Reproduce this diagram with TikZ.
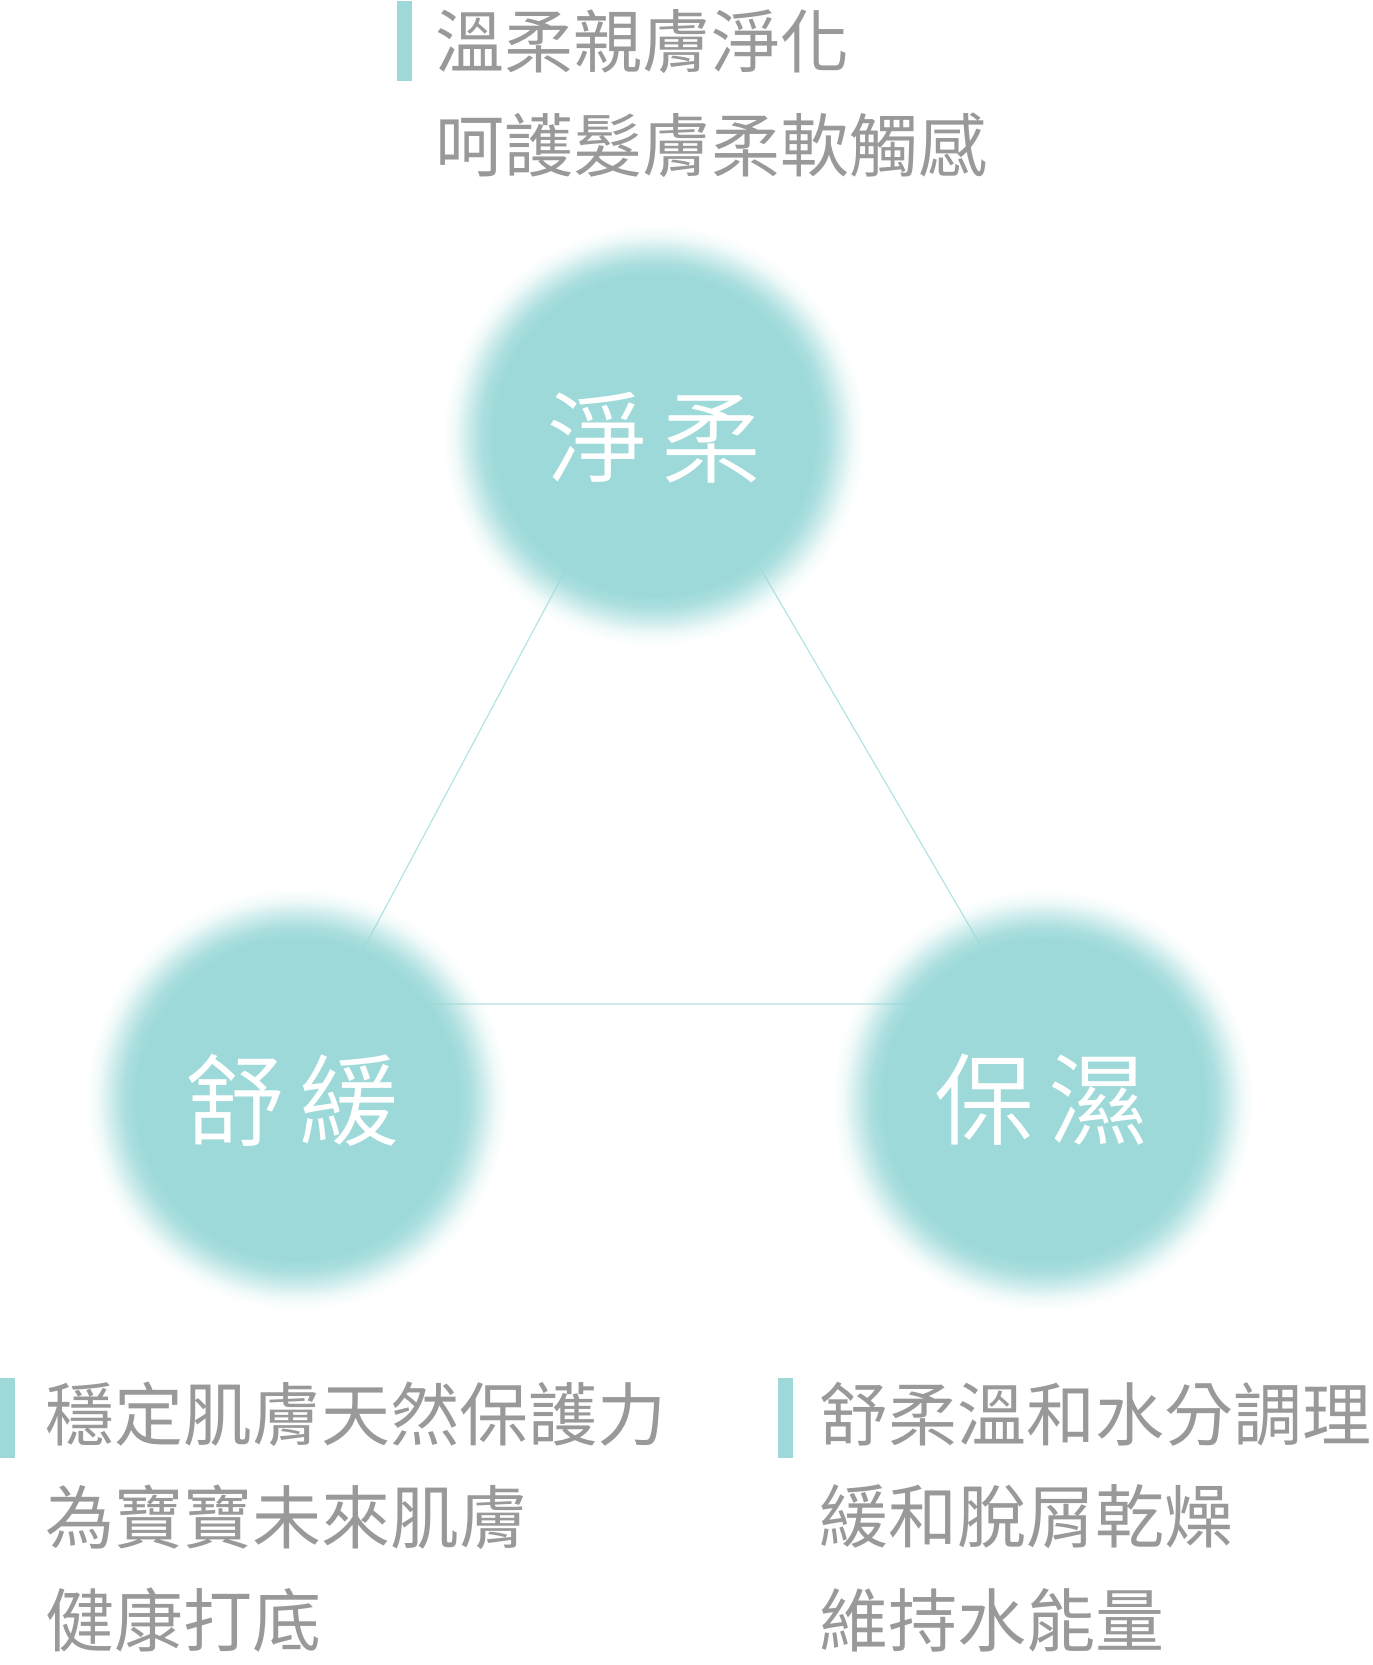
\documentclass[tikz,border=0pt]{standalone}
\usepackage{fontspec}
\setmainfont{Noto Sans CJK TC}
\IfFontExistsTF{Noto Sans CJK TC DemiLight}
	{\newfontfamily\bubblefont{Noto Sans CJK TC DemiLight}}
	{\newfontfamily\bubblefont{Noto Sans CJK TC}}
\usetikzlibrary{positioning,fadings,backgrounds}
\definecolor{mint}{HTML}{9DD9D9}
\definecolor{txtgrey}{HTML}{999999}
\pgfdeclareradialshading{softedgeshade}{\pgfpointorigin}{color(0bp)=(pgftransparent!0); color(19bp)=(pgftransparent!0); color(20.5bp)=(pgftransparent!15); color(22.1bp)=(pgftransparent!50); color(23.6bp)=(pgftransparent!85); color(25bp)=(pgftransparent!100); color(50bp)=(pgftransparent!100)}
\pgfdeclarefading{softedge}{\pgfuseshading{softedgeshade}}

\begin{document}
\begin{tikzpicture}[x=0.5pt,y=-0.5pt,node distance=51.5pt,on grid,
	lineitem/.style={inner sep=0pt,text=txtgrey,font=\fontsize{34.5pt}{40pt}\selectfont},
	bubbletext/.style={inner sep=0pt,text=white,font=\bubblefont\fontsize{50pt}{56pt}\selectfont},
	bubble/.style={fill=mint,path fading=softedge},
	edgeline/.style={draw=mint!75,line width=0.6pt},
	markbar/.style={fill=mint}]
	\useasboundingbox (0,0) rectangle (1372,1665);
	% top block
	\node[lineitem,anchor=west] (t1) at (435,42) {溫柔親膚淨化};
	\node[lineitem] (t2) [below=of t1.west,anchor=west] {呵護髮膚柔軟觸感};
	% bottom left block
	\node[lineitem,anchor=west] (l1) at (45,1414) {穩定肌膚天然保護力};
	\node[lineitem] (l2) [below=of l1.west,anchor=west] {為寶寶未來肌膚};
	\node[lineitem] (l3) [below=of l2.west,anchor=west] {健康打底};
	% bottom right block
	\node[lineitem,anchor=west] (r1) at (819,1414) {舒柔溫和水分調理};
	\node[lineitem] (r2) [below=of r1.west,anchor=west] {緩和脫屑乾燥};
	\node[lineitem] (r3) [below=of r2.west,anchor=west] {維持水能量};
	\fill[markbar] (397,1) rectangle (412,81);
	\fill[markbar] (0,1378) rectangle (15,1458);
	\fill[markbar] (778,1378) rectangle (793,1458);
	% circles
	\coordinate (jingc) at (654,435);
	\coordinate (shuc) at (297,1099);
	\coordinate (baoc) at (1043,1100);
	\coordinate (apex) at (659,395);
	\coordinate (lcorner) at (334,1004);
	\coordinate (rcorner) at (1015,1004);
	\node[bubbletext] (jing) at (654,438) {淨\hspace{7pt}柔};
	\node[bubbletext] (shu) at (292,1100) {舒\hspace{7pt}緩};
	\node[bubbletext] (bao) at (1041,1100) {保\hspace{7pt}濕};
	\begin{pgfonlayer}{background}
		\draw[edgeline] (apex) -- (lcorner) -- (rcorner) -- cycle;
		\fill[bubble] (jingc) circle (210);
		\fill[bubble] (shuc) circle (210);
		\fill[bubble] (baoc) circle (210);
	\end{pgfonlayer}
\end{tikzpicture}
\end{document}
